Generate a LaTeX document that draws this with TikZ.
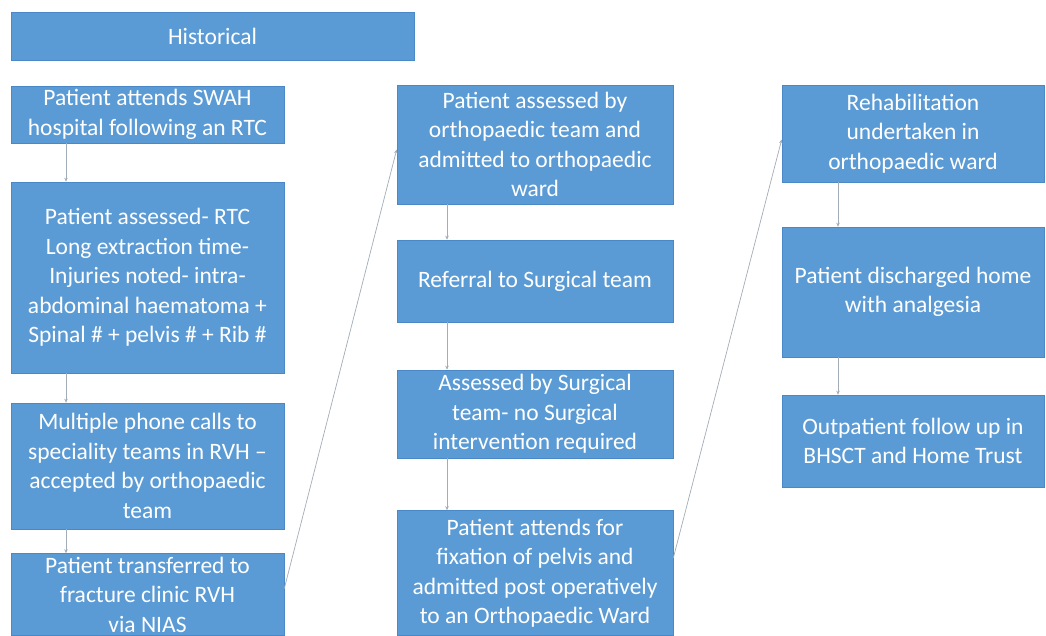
\documentclass[tikz,border=0pt]{standalone}
\usepackage{fontspec}
\setmainfont{Carlito}
\usetikzlibrary{arrows.meta}
\definecolor{boxblue}{HTML}{5B9BD5}
\definecolor{boxedge}{HTML}{4A88C8}
\definecolor{linegray}{HTML}{A3ADB8}
\begin{document}
\begin{tikzpicture}[x=1pt,y=-1pt,
  box/.style={rectangle, fill=boxblue, draw=boxedge, line width=0.6pt, text=white,
    align=center, inner sep=0pt, font=\fontsize{23.5}{29.5}\selectfont},
  arr/.style={draw=linegray, line width=0.7pt, -{Stealth[length=4pt,width=3.5pt]}}]
\useasboundingbox (0,0) rectangle (1046,636);
\fill[white] (0,0) rectangle (1046,636);
% header
\node[box, minimum width=403pt, minimum height=48pt] (hist) at (212.5,36) {Historical};
% left column
\node[box, minimum width=273pt, minimum height=57pt] (b1) at (147.5,114.5) {Patient attends SWAH\\hospital following an RTC};
\node[box, minimum width=273pt, minimum height=191pt] (b2) at (147.5,277.5) {Patient assessed- RTC\\Long extraction time-\\Injuries noted- intra-\\abdominal haematoma +\\Spinal \# + pelvis \# + Rib \#};
\node[box, minimum width=273pt, minimum height=126pt] (b3) at (147.5,466) {Multiple phone calls to\\speciality teams in RVH --\\accepted by orthopaedic\\team};
\node[box, minimum width=273pt, minimum height=82pt] (b4) at (147.5,594.5) {Patient transferred to\\fracture clinic RVH\\via NIAS};
% middle column
\node[box, minimum width=276pt, minimum height=119pt] (m1) at (535,144.5) {Patient assessed by\\orthopaedic team and\\admitted to orthopaedic\\ward};
\node[box, minimum width=276pt, minimum height=82pt] (m2) at (535,281) {Referral to Surgical team};
\node[box, minimum width=276pt, minimum height=88pt] (m3) at (535,414) {Assessed by Surgical\\team- no Surgical\\intervention required};
\node[box, minimum width=276pt, minimum height=125pt] (m4) at (535,573) {Patient attends for\\fixation of pelvis and\\admitted post operatively\\to an Orthopaedic Ward};
% right column
\node[box, minimum width=262pt, minimum height=97pt] (r1) at (913,133.5) {Rehabilitation\\undertaken in\\orthopaedic ward};
\node[box, minimum width=262pt, minimum height=130pt] (r2) at (913,292) {Patient discharged home\\with analgesia};
\node[box, minimum width=262pt, minimum height=92pt] (r3) at (913,441) {Outpatient follow up in\\BHSCT and Home Trust};
% arrow columns
\coordinate (ax) at (66,0);
\coordinate (bx) at (447,0);
\coordinate (cx) at (838,0);
\draw[arr] (b1.south -| ax) -- (b2.north -| ax);
\draw[arr] (b2.south -| ax) -- (b3.north -| ax);
\draw[arr] (b3.south -| ax) -- (b4.north -| ax);
\draw[arr] (m1.south -| bx) -- (m2.north -| bx);
\draw[arr] (m2.south -| bx) -- (m3.north -| bx);
\draw[arr] (m3.south -| bx) -- (m4.north -| bx);
\draw[arr] (r1.south -| cx) -- (r2.north -| cx);
\draw[arr] (r2.south -| cx) -- (r3.north -| cx);
% diagonal connectors
\draw[arr] ([yshift=6pt]b4.east) -- ([yshift=-5pt]m1.west);
\draw[arr] ([yshift=15pt]m4.east) -- ([yshift=-6pt]r1.west);
\end{tikzpicture}
\end{document}
